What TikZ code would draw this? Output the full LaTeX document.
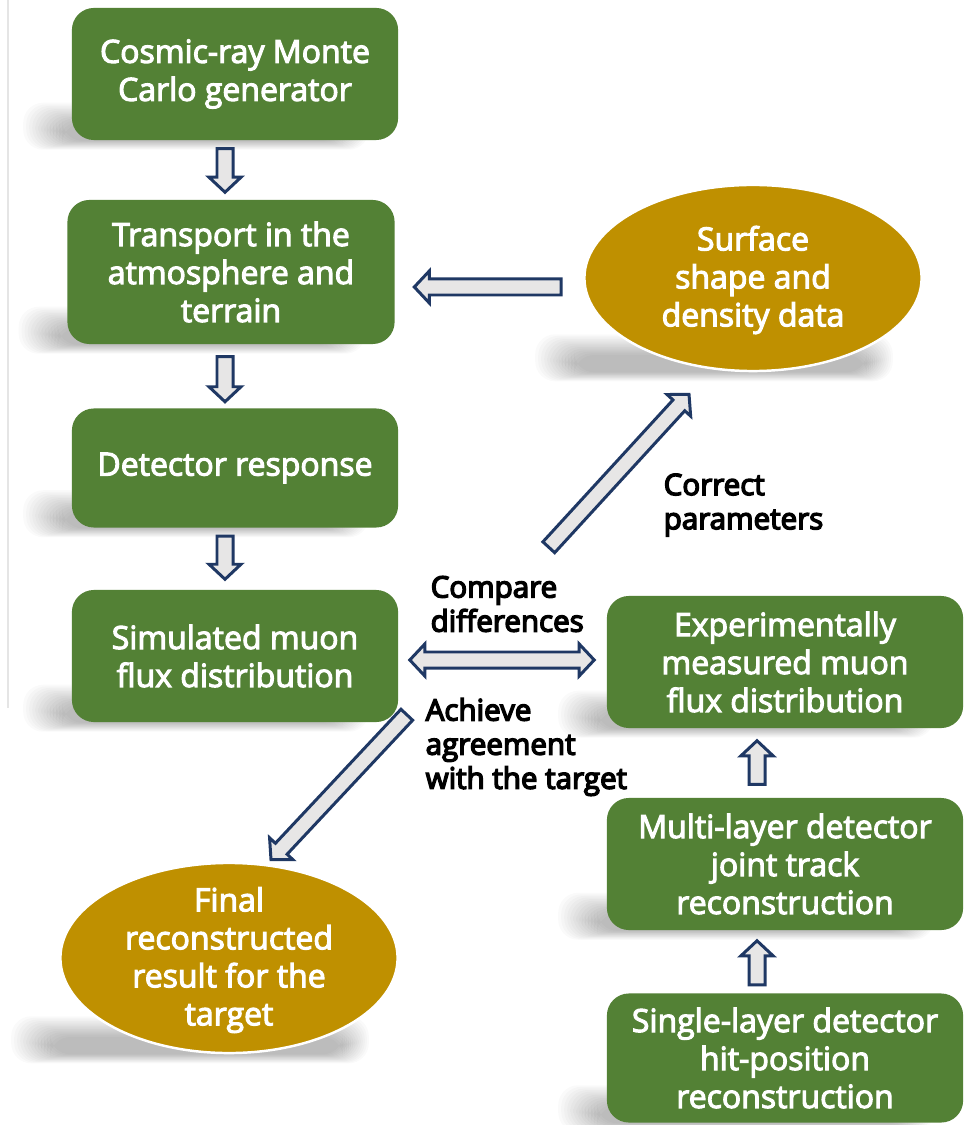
\documentclass[tikz,border=0pt]{standalone}
\usepackage{fontspec}
\setmainfont{Open Sans}
\usetikzlibrary{shapes.geometric,calc,backgrounds}

\definecolor{boxgreen}{HTML}{538135}
\definecolor{ovalgold}{HTML}{BF9000}
\definecolor{arrowline}{HTML}{1F3864}
\definecolor{arrowfill}{HTML}{E7E6E6}

% thicken glyphs by filling and stroking them (state is reset at the end of each node)
\newcommand\thicktext[1]{\special{pdf:literal direct 2 Tr #1 w}}

\tikzset{
  stepbox/.style={rectangle, rounded corners=0.22cm, fill=boxgreen, text=white,
    align=center, inner sep=0pt,
    font=\fontsize{9.1}{10.8}\selectfont\thicktext{0.3}},
  oval/.style={ellipse, fill=ovalgold, draw=white, line width=0.7pt, inner sep=0pt},
  ovaltext/.style={text=white, align=center, inner sep=0pt,
    font=\fontsize{9.1}{10.8}\selectfont\thicktext{0.3}},
  note/.style={align=left, anchor=west, inner sep=0pt, text=black,
    font=\fontsize{8.4}{9.7}\selectfont\thicktext{0.4}},
  arrowbody/.style={draw=arrowline, fill=arrowfill, line width=0.85pt},
  shadowlayer/.style={black, opacity=0.018, rounded corners=0.2cm}
}

% block arrow from #1 (tail) to #2 (tip)
\newcommand\blockarrow[2]{%
  \coordinate (hd) at ($(#2)!0.15cm!(#1)$);
  \draw[arrowbody] ($(#1)!0.08cm!90:(#2)$) -- ($(hd)!0.08cm!90:(#2)$)
    -- ($(hd)!0.16cm!90:(#2)$) -- (#2) -- ($(hd)!0.16cm!-90:(#2)$)
    -- ($(hd)!0.08cm!-90:(#2)$) -- ($(#1)!0.08cm!-90:(#2)$) -- cycle;}

% block arrow with heads at both ends
\newcommand\twowayarrow[2]{%
  \coordinate (hd) at ($(#2)!0.15cm!(#1)$);
  \coordinate (tl) at ($(#1)!0.15cm!(#2)$);
  \draw[arrowbody] (#1) -- ($(tl)!0.16cm!90:(#2)$) -- ($(tl)!0.08cm!90:(#2)$)
    -- ($(hd)!0.08cm!90:(#2)$) -- ($(hd)!0.16cm!90:(#2)$) -- (#2)
    -- ($(hd)!0.16cm!-90:(#2)$) -- ($(hd)!0.08cm!-90:(#2)$)
    -- ($(tl)!0.08cm!-90:(#2)$) -- ($(tl)!0.16cm!-90:(#2)$) -- cycle;}

% soft shadow cast to the lower left of a shape, given its bottom corners
\newcommand\dropshadow[2]{%
  \foreach \i in {0,...,13}{%
    \fill[shadowlayer] ($#1+(-48+3*\i,-38+1.6*\i)$) rectangle ($#2+(-30-2*\i,9-0.7*\i)$);}}

\begin{document}
\begin{tikzpicture}[x=0.01cm, y=-0.01cm]
\useasboundingbox (0,0) rectangle (972,1125);

% process boxes
\node[stepbox, minimum width=3.26cm, minimum height=1.32cm] (gen) at (235,74)
  {Cosmic-ray Monte\\Carlo generator};
\node[stepbox, minimum width=3.27cm, minimum height=1.44cm] (trans) at (231,272)
  {Transport in the\\atmosphere and\\terrain};
\node[stepbox, minimum width=3.26cm, minimum height=1.19cm] (det) at (235,468)
  {Detector response};
\node[stepbox, minimum width=3.26cm, minimum height=1.32cm] (sim) at (235,656)
  {Simulated muon\\flux distribution};
\node[stepbox, minimum width=3.56cm, minimum height=1.32cm] (exp) at (785,662)
  {Experimentally\\measured muon\\flux distribution};
\node[stepbox, minimum width=3.56cm, minimum height=1.32cm] (multi) at (785,864)
  {Multi-layer detector\\joint track\\reconstruction};
\node[stepbox, minimum width=3.56cm, minimum height=1.29cm] (single) at (785,1058)
  {Single-layer detector\\hit-position\\reconstruction};

% data ovals
\node[oval, minimum width=3.37cm, minimum height=1.86cm] (surf) at (753,278) {};
\node[ovaltext] (surftext) at (753,280) {Surface\\shape and\\density data};
\node[oval, minimum width=3.37cm, minimum height=1.90cm] (final) at (229,958) {};
\node[ovaltext] (finaltext) at (229,960) {Final\\reconstructed\\result for the\\target};

% page, frame line and shadows behind everything
\begin{scope}[on background layer]
  \fill[white] (0,0) rectangle (972,1125);
  \draw[black!10, line width=0.4pt] (8,0) -- (8,708);
  \foreach \n in {gen,trans,det,sim,exp,multi,single}{%
    \dropshadow{(\n.south west)}{(\n.south east)}}
  \dropshadow{(surf.west |- surf.south)}{(surf.east |- surf.south)}
  \dropshadow{(final.west |- final.south)}{(final.east |- final.south)}
\end{scope}

% arrow end points
\coordinate (d1a) at ($(gen.south)+(-10,8)$);
\coordinate (d1b) at ($(trans.north)+(-6,-7)$);
\coordinate (d2a) at ($(trans.south)+(-6,12)$);
\coordinate (d2b) at ($(det.north)+(-10,-6)$);
\coordinate (d3a) at ($(det.south)+(-10,8)$);
\coordinate (d3b) at ($(sim.north)+(-10,-10)$);
\coordinate (la) at ($(surf.west)+(-22,9)$);
\coordinate (lb) at ($(trans.east)+(19,15)$);
\coordinate (ua) at ($(sim.north east)+(150,-42)$);
\coordinate (ub) at ($(surf.south)+(-64,22)$);
\coordinate (fa) at ($(sim.south east)+(8,-8)$);
\coordinate (fb) at ($(final.north)+(42,-2)$);
\coordinate (ca) at ($(sim.east)+(11,4)$);
\coordinate (cb) at ($(exp.west)+(-12,-2)$);
\coordinate (m1a) at ($(multi.north)+(-28,-13)$);
\coordinate (m1b) at ($(exp.south)+(-28,12)$);
\coordinate (m2a) at ($(single.north)+(-28,-8)$);
\coordinate (m2b) at ($(multi.south)+(-28,10)$);

\blockarrow{d1a}{d1b}
\blockarrow{d2a}{d2b}
\blockarrow{d3a}{d3b}
\blockarrow{la}{lb}
\blockarrow{ua}{ub}
\blockarrow{fa}{fb}
\twowayarrow{ca}{cb}
\blockarrow{m1a}{m1b}
\blockarrow{m2a}{m2b}

% arrow labels
\node[note] (corr) at (663,505) {Correct\\parameters};
\node[note] (comp) at (430,604) {Compare\\differences};
\node[note] (agree) at (425,747) {Achieve\\agreement\\with the target};
\end{tikzpicture}
\end{document}
